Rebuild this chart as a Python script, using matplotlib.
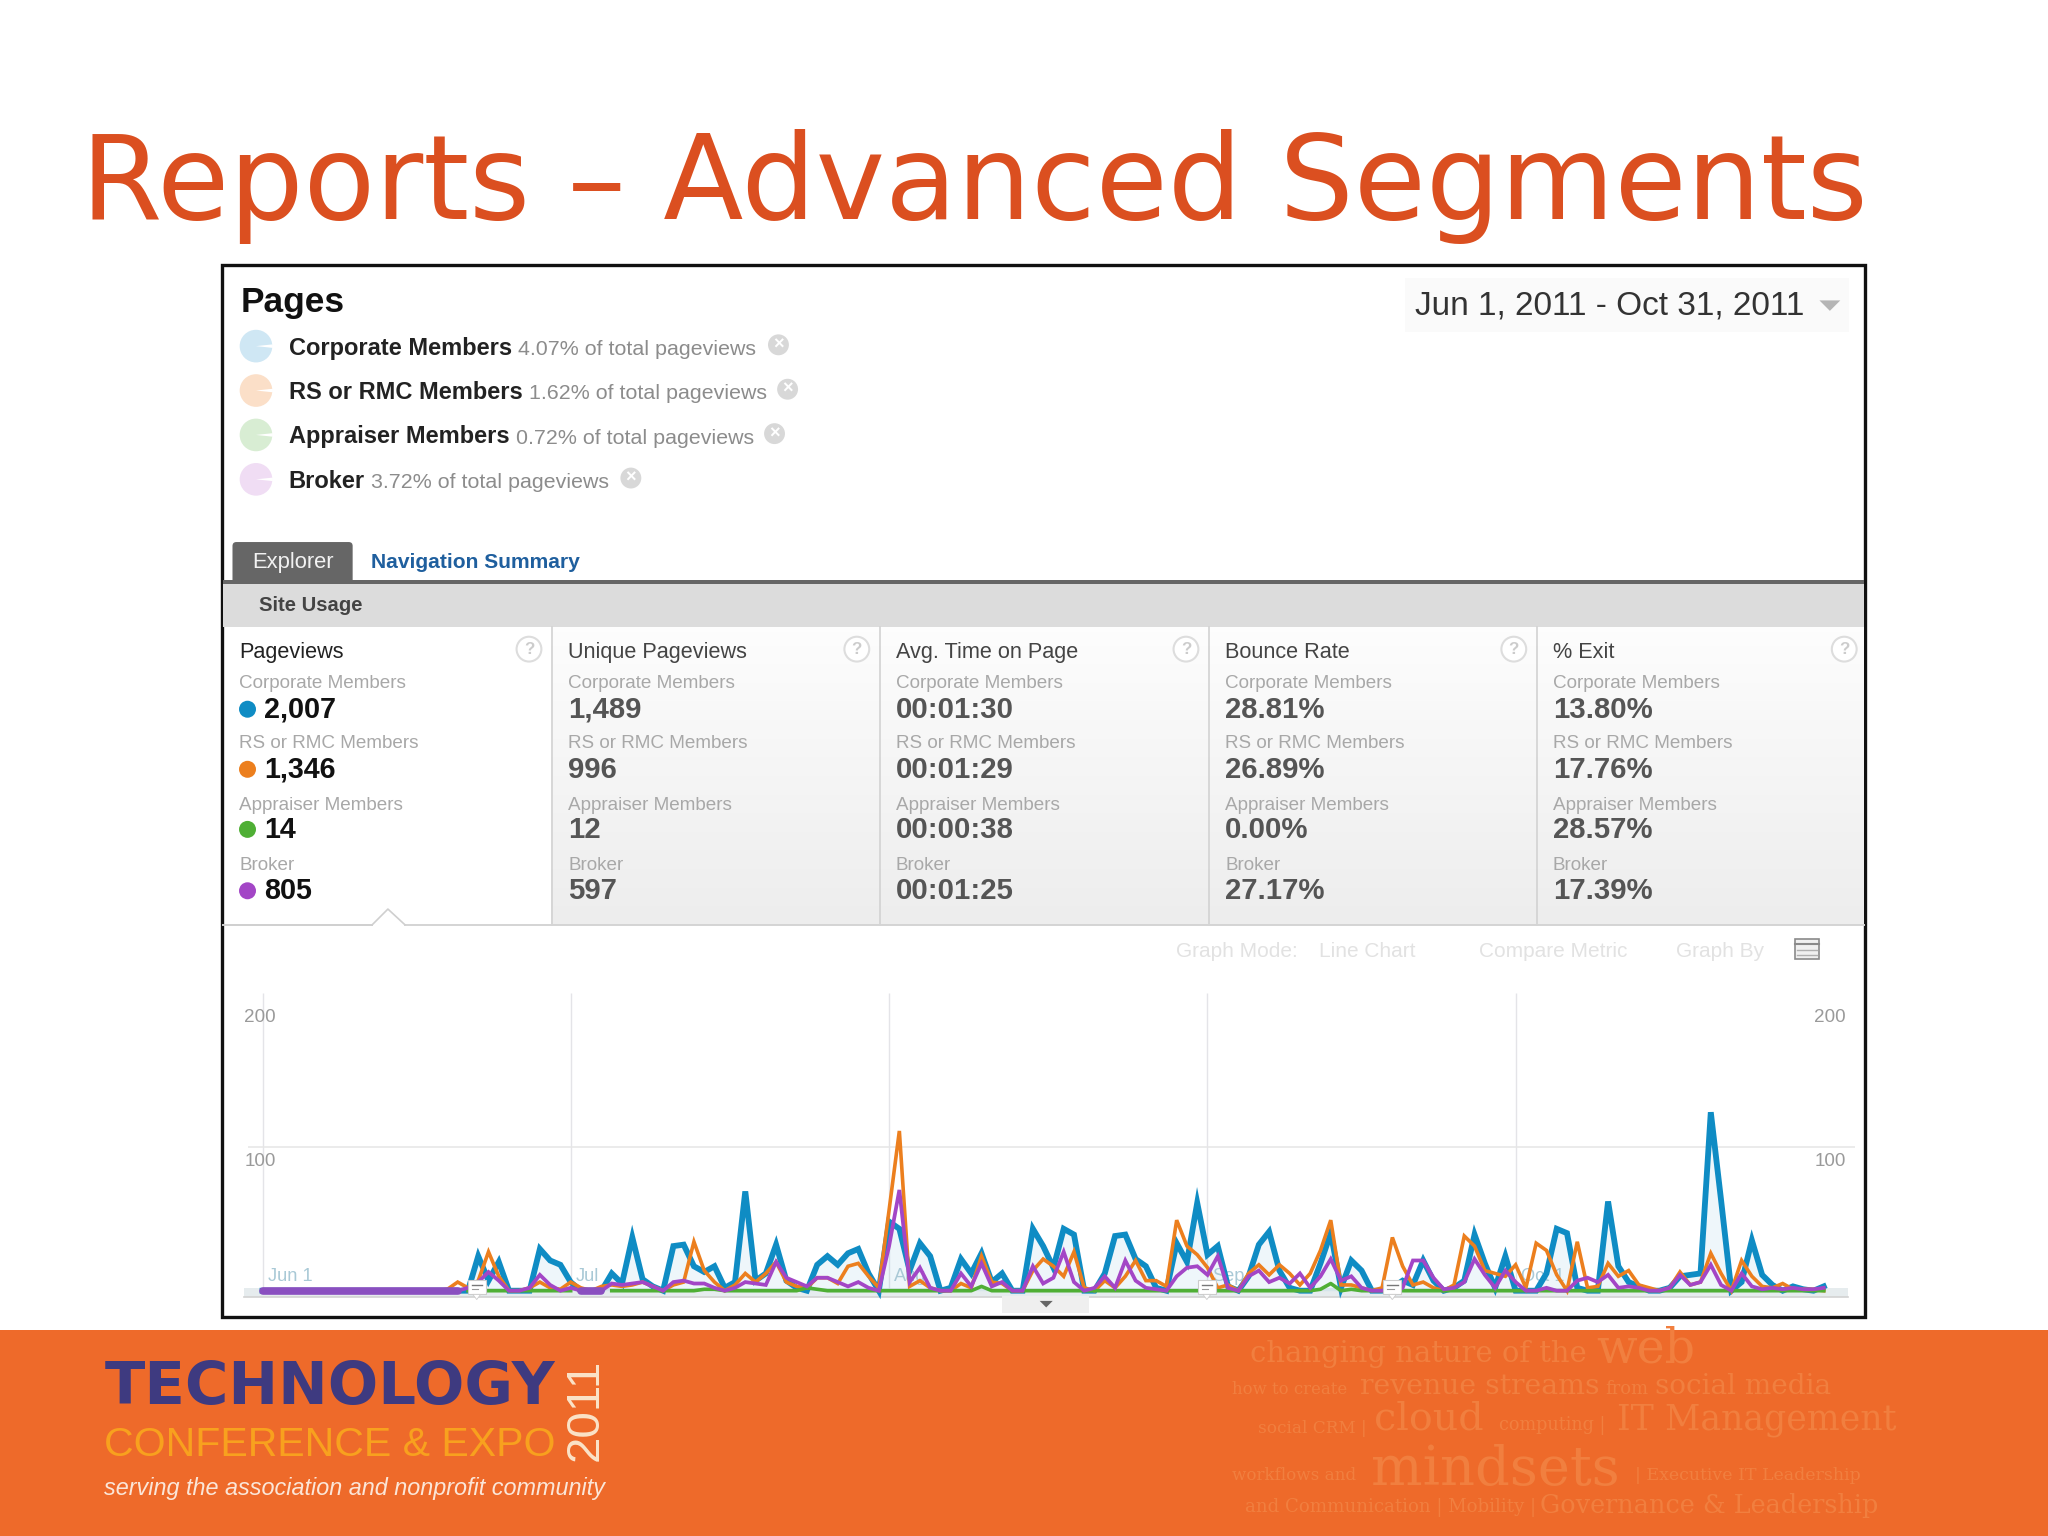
import numpy as np
import pandas as pd
import matplotlib
matplotlib.use("Agg")
import matplotlib.pyplot as plt
import matplotlib.dates as mdates
from matplotlib.patches import Rectangle, Circle, Wedge, Polygon, FancyBboxPatch

SEGMENTS = ["Corporate Members", "RS or RMC Members", "Appraiser Members", "Broker"]
SHARES = ["4.07%", "1.62%", "0.72%", "3.72%"]
COLORS = ["#0F8CC4", "#EC7F1E", "#4FAF35", "#A346C6"]
METRICS = ["Pageviews", "Unique Pageviews", "Avg. Time on Page", "Bounce Rate", "% Exit"]
M_PAGEVIEWS = ["2,007", "1,346", "14", "805"]
M_UNIQUE = ["1,489", "996", "12", "597"]
M_TIME = ["00:01:30", "00:01:29", "00:00:38", "00:01:25"]
M_BOUNCE = ["28.81%", "26.89%", "0.00%", "27.17%"]
M_EXIT = ["13.80%", "17.76%", "28.57%", "17.39%"]

corporate = [0,0,0,0,0,0,0,0,0,0, 0,0,0,0,0,0,0,0,0,0,
             0,24,7,20,0,0,0,29,21,18, 6,0,0,0,12,5,37,8,3,0,
             31,32,17,13,17,2,6,69,7,12, 32,7,2,0,18,24,18,26,29,12,
             0,48,43,14,33,24,0,2,22,12, 26,6,12,0,0,43,31,16,43,39,
             0,0,12,38,39,22,17,2,0,33, 20,61,25,31,3,0,10,32,41,14,
             2,0,0,19,40,2,21,14,0,0, 2,7,4,21,7,0,2,7,39,19,
             2,24,0,0,0,12,43,40,2,0, 0,62,17,6,3,0,0,2,10,11,
             12,124,63,0,6,35,11,4,0,3, 1,0,3]
rs_rmc = [0,0,0,0,0,0,0,0,0,0, 0,0,0,0,0,0,0,0,1,6,
          2,7,27,10,0,0,2,6,2,1, 6,2,0,3,4,3,4,6,3,0,
          4,6,34,14,6,0,4,12,6,12, 20,6,3,2,9,9,5,17,19,10,
          2,56,111,3,7,2,0,0,5,2, 24,6,5,0,0,14,22,17,10,27,
          2,0,7,2,10,21,7,7,3,49, 31,25,16,2,4,0,12,18,11,18,
          12,4,12,28,49,4,4,2,0,2, 37,17,4,6,2,0,4,38,31,14,
          12,10,18,2,33,28,11,0,34,2, 3,19,10,14,4,2,0,2,13,4,
          6,26,12,0,21,10,3,2,5,1, 1,1,0]
broker = [0,0,0,0,0,0,0,0,0,0, 0,0,0,0,0,0,0,0,0,0,
          2,6,13,7,0,0,2,11,4,0, 2,0,0,0,5,4,5,6,3,0,
          6,7,5,5,2,0,2,6,5,4, 20,9,6,3,9,9,6,3,6,2,
          0,31,70,6,16,2,0,0,12,3, 19,3,6,0,0,17,5,9,27,6,
          0,2,10,2,21,7,2,1,0,10, 16,17,11,24,2,0,10,14,6,9,
          5,12,2,10,22,7,10,2,0,0, 2,2,21,21,9,1,2,6,22,11,
          2,14,6,0,0,2,0,0,7,9, 6,11,2,3,2,0,0,2,11,4,
          6,18,4,0,12,3,1,2,1,2, 1,1,2]
appraiser = [0,0,0,0,0,0,0,0,0,0, 0,0,0,0,0,0,0,0,0,0,
             0,0,0,0,0,0,0,0,0,0, 0,0,0,0,0,0,0,0,0,0,
             0,0,0,1,1,0,0,0,0,0, 0,0,0,2,1,0,0,0,0,0,
             0,0,0,0,0,0,0,0,0,0, 3,0,0,0,0,0,0,0,0,0,
             0,0,0,0,0,0,0,0,0,0, 0,0,0,0,0,0,0,0,0,0,
             0,0,0,1,5,0,1,0,0,0, 0,0,0,0,0,0,0,0,0,0,
             0,0,0,0,0,0,0,0,0,0, 0,0,0,0,0,0,0,0,0,0,
             0,0,0,0,0,0,0,0,0,0, 0,0,0]
dates = pd.date_range("2011-06-01", "2011-10-31", freq="D")
no_data = [(0, 20), (31, 34)]
x_labels = ["Jun 1", "Jul", "Aug", "Sep", "Oct 1"]
x_ticks = pd.to_datetime(["2011-06-01", "2011-07-01", "2011-08-01", "2011-09-01", "2011-10-01"])
y_ticks = [100, 200]

SANS = ["Liberation Sans", "DejaVu Sans"]
SERIF = ["DejaVu Serif", "Liberation Serif"]
plt.rcParams["font.family"] = SANS

fig = plt.figure(figsize=(20.48, 15.36), dpi=100, facecolor="white")
W, H = 1568.0, 1176.0
bg = fig.add_axes([0, 0, 1, 1], zorder=0)
bg.set_xlim(0, W); bg.set_ylim(H, 0); bg.axis("off")
FS = 0.72 * 2048 / 1568   # font points per slide unit


def T(x, y, s, size, color="#333333", weight="normal", ha="left", va="center", ax=bg, **kw):
    return ax.text(x, y + 1.5, s, fontsize=size * FS, color=color, fontweight=weight,
                   ha=ha, va=va, **kw)


def fit(t, width):
    r = fig.canvas.get_renderer()
    ext = t.get_window_extent(r)
    w = max(ext.width, ext.height) if t.get_rotation() else ext.width
    t.set_fontsize(t.get_fontsize() * width * (2048 / W) / w)
    return t


def rect(x0, y0, x1, y1, color, z=1, **kw):
    bg.add_patch(Rectangle((x0, y0), x1 - x0, y1 - y0, facecolor=color, edgecolor="none", zorder=z, **kw))


# Title
fit(T(62, 141, "Reports – Advanced Segments", 84, color="#DB4F20", family="DejaVu Sans"), 1368)

# Panel frame
bg.add_patch(Rectangle((170, 203), 1258, 805, facecolor="white", edgecolor="#111111", lw=2.4, zorder=1))

# Header
T(184, 230, "Pages", 27, color="#111111", weight="bold", zorder=3)
pale = ["#CFE7F4", "#FBDFC8", "#D8EDD3", "#F0DDF4"]
ly = [265, 299, 333, 367]
cx = [596, 603, 593, 483]
for i, (s, p) in enumerate(zip(SEGMENTS, SHARES)):
    bg.add_patch(Circle((196, ly[i]), 12.5, facecolor=pale[i], edgecolor="none", zorder=2))
    bg.add_patch(Wedge((196, ly[i]), 13, -6, 6, facecolor="white", edgecolor="none", zorder=2.1))
    t = T(221, ly[i], s, 18.1, color="#222222", weight="bold", zorder=3)
    r = fig.canvas.get_renderer()
    e = t.get_window_extent(r)
    T(e.x1 * W / 2048 + 5, ly[i] + 1, p + " of total pageviews", 16.4, color="#8C8C8C", zorder=3)
    bg.add_patch(Circle((cx[i], ly[i] - 1), 8, facecolor="#D8D8D8", edgecolor="none", zorder=2))
    T(cx[i], ly[i] - 2.5, "×", 14, color="white", ha="center", weight="bold", zorder=3)

# Date box
rect(1076, 213, 1416, 254, "#FAFAFA", z=2)
T(1083, 233, "Jun 1, 2011 - Oct 31, 2011", 25.6, color="#333333", zorder=3)
bg.add_patch(Polygon([(1393, 230), (1409, 230), (1401, 238)], facecolor="#B5B5B5", edgecolor="none", zorder=3))

# Tabs
bg.add_patch(FancyBboxPatch((180, 417), 88, 30, boxstyle="round,pad=2,rounding_size=3",
                            facecolor="#666666", edgecolor="none", zorder=2))
T(224, 429, "Explorer", 16.8, color="#F2F2F2", ha="center", zorder=3)
T(284, 429, "Navigation Summary", 16.1, color="#1F5F9E", weight="bold", zorder=3)

rect(171, 446, 1427, 480, "#DCDCDC", z=2)
rect(171, 444, 1427, 447, "#666666", z=3)
T(198, 462, "Site Usage", 15.5, color="#444444", weight="bold", zorder=3)

# Metric columns
col_x = [171, 422, 673, 925, 1176, 1427]
grad = np.linspace(0, 1, 64).reshape(-1, 1)
cmap = matplotlib.colors.LinearSegmentedColormap.from_list("g", ["#FDFDFD", "#EDEDED"])
bg.imshow(grad, extent=(422, 1427, 708, 480), aspect="auto", cmap=cmap, zorder=1.5)
bg.set_xlim(0, W); bg.set_ylim(H, 0)
for cxl in col_x[1:-1]:
    bg.plot([cxl + 0.5, cxl + 0.5], [480, 708], color="#D2D2D2", lw=1.2, zorder=3)
bg.plot([171, 285], [708, 708], color="#CFCFCF", lw=1.4, zorder=3)
bg.plot([310, 1427], [708, 708], color="#D4D4D4", lw=1.4, zorder=3)
bg.plot([285, 297, 310], [708, 696, 708], color="#CFCFCF", lw=1.2, zorder=3)

values = [M_PAGEVIEWS, M_UNIQUE, M_TIME, M_BOUNCE, M_EXIT]
text_x = [183, 435, 686, 938, 1189]
help_x = [405, 656, 908, 1159, 1412]
lab_y = [523, 569, 616, 662]
val_y = [543, 589, 635, 682]
for c in range(5):
    T(text_x[c], 498, METRICS[c], 16.6, color="#222222" if c == 0 else "#444444", zorder=3)
    bg.add_patch(Circle((help_x[c], 497), 9.5, facecolor="white", edgecolor="#DDDDDD", lw=1.5, zorder=3))
    T(help_x[c], 495.5, "?", 13, color="#CCCCCC", ha="center", weight="bold", zorder=4)
    for i in range(4):
        T(text_x[c], lab_y[i] - 1, SEGMENTS[i], 14.5, color="#A8A8A8", zorder=3)
        if c == 0:
            bg.add_patch(Circle((189.5, val_y[i]), 6.5, facecolor=COLORS[i], edgecolor="none", zorder=3))
            T(202, val_y[i] - 1, values[c][i], 22, color="#111111", weight="bold", zorder=3)
        else:
            T(text_x[c], val_y[i] - 1, values[c][i], 22.5, color="#555555", weight="bold", zorder=3)

# Graph controls
for x_, s_ in [(900, "Graph Mode:"), (1010, "Line Chart"), (1132, "Compare Metric"), (1283, "Graph By")]:
    T(x_, 727, s_, 16, color="#E2E2E2", zorder=3)
bg.add_patch(Rectangle((1374, 719), 19, 15, facecolor="#F0F0F0", edgecolor="#8A8A8A", lw=1.2, zorder=3))
bg.plot([1374, 1393], [723, 723], color="#8A8A8A", lw=1.5, zorder=4)
bg.plot([1376, 1391], [727, 727], color="#B0B0B0", lw=1.0, zorder=4)
bg.plot([1376, 1391], [731, 731], color="#B0B0B0", lw=1.0, zorder=4)

# Timeline strip and handle
rect(187, 986, 1415, 993, "#E6ECEE", z=2)
bg.plot([187, 1415], [993, 993], color="#D2D2D2", lw=1.2, zorder=2)
rect(767, 992, 834, 1005, "#EFEFEF", z=2)
bg.add_patch(Polygon([(796, 996), (806, 996), (801, 1001)], facecolor="#666666", edgecolor="none", zorder=3))

# Footer
rect(0, 1018, W, H, "#EE6A2A", z=1)
fit(T(80, 1061, "TECHNOLOGY", 42, color="#3E3A80", weight="bold", family="DejaVu Sans"), 345)
fit(T(80, 1105, "CONFERENCE & EXPO", 36, color="#F8A11E"), 345)
fit(T(448, 1078, "2011", 40, color="#FBE3C8", rotation=90, ha="center"), 78)
fit(T(80, 1138, "serving the association and nonprofit community", 20, color="#FBE6D8", style="italic"), 382)

wm = "#F17F3F"
rows = [
    (957, 1035, "changing nature of the", 24), (1222, 1031, "web", 38),
    (943, 1062, "how to create", 14), (1041, 1060, "revenue streams", 24),
    (1229, 1062, "from", 14), (1267, 1060, "social media", 24),
    (963, 1092, "social CRM |", 14), (1052, 1085, "cloud", 30),
    (1148, 1090, "computing |", 14), (1238, 1086, "IT Management", 26),
    (943, 1128, "workflows and", 14), (1050, 1124, "mindsets", 40),
    (1252, 1128, "| Executive IT Leadership", 14),
    (953, 1153, "and Communication | Mobility |", 14),
    (1179, 1151, "Governance & Leadership", 22),
]
widths = [257, 76, 88, 184, 33, 135, 83, 84, 82, 214, 95, 190, 172, 223, 259]
for (x_, y_, s_, sz), w_ in zip(rows, widths):
    fit(T(x_, y_, s_, sz, color=wm, family=SERIF, zorder=2), w_)

# Chart
left, right, top, bottom = 190.0, 1420.0, 760.0, 995.0
ax = fig.add_axes([left / W, 1 - bottom / H, (right - left) / W, (bottom - top) / H], zorder=2)
ax.patch.set_alpha(0)
for sp in ax.spines.values():
    sp.set_visible(False)
ax.tick_params(left=False, right=False, bottom=False, labelbottom=False, labelleft=False)
d0 = mdates.date2num(dates[0])
per_day = 7.864
per_unit = 1.102
ax.set_xlim(d0 + (left - 201) / per_day, d0 + (right - 201) / per_day)
ax.set_ylim((988.2 - bottom) / per_unit, (988.2 - top) / per_unit)

xn = mdates.date2num(dates)
ax.vlines(mdates.date2num(x_ticks), ax.get_ylim()[0] + 6, ax.get_ylim()[1], color="#E4E4E8", lw=1.0, zorder=1)
ax.axhline(y_ticks[0], color="#E6E6E6", lw=1.1, zorder=1)
ytr = ax.get_yaxis_transform()
for v in y_ticks:
    ax.annotate(str(v), (0, v), xycoords=ytr, xytext=(-3 * FS, -11 * FS), textcoords="offset points",
                ha="left", va="center", fontsize=14.5 * FS, color="#9A9A9A")
    ax.annotate(str(v), (1, v), xycoords=ytr, xytext=(-7 * FS, -11 * FS), textcoords="offset points",
                ha="right", va="center", fontsize=14.5 * FS, color="#9A9A9A")
for d, s in zip(mdates.date2num(x_ticks), x_labels):
    ax.text(d + 0.5, 10, s, fontsize=14 * FS, color="#A9C9D6", ha="left", va="center", zorder=1.5)

corp = np.array(corporate, float)
ax.fill_between(xn, 0, corp, color=COLORS[0], alpha=0.07, lw=0, zorder=1.2)
ax.plot(xn, corp, color=COLORS[0], lw=4.2, solid_joinstyle="miter", zorder=2)
ax.plot(xn, rs_rmc, color=COLORS[1], lw=2.6, solid_joinstyle="miter", zorder=3)
ax.plot(xn, broker, color=COLORS[3], lw=2.7, solid_joinstyle="miter", zorder=5)
green = np.array(appraiser, float)
for a, b in no_data:
    green[a:b] = np.nan
ax.plot(xn, green, color=COLORS[2], lw=2.6, zorder=4)
for a, b in no_data:
    ax.plot(xn[a:b], np.array(broker, float)[a:b], color="#8A4FC0", lw=5.5, solid_capstyle="round", zorder=6)

# Annotation bubbles on the timeline
ov = fig.add_axes([0, 0, 1, 1], zorder=3)
ov.set_xlim(0, W); ov.set_ylim(H, 0); ov.axis("off"); ov.patch.set_alpha(0)
for bx in [365, 924, 1066]:
    ov.add_patch(Rectangle((bx - 7, 980), 14, 11, facecolor="white", edgecolor="#CCCCCC", lw=0.8))
    ov.add_patch(Polygon([(bx - 3, 991), (bx + 3, 991), (bx, 995)], facecolor="white", edgecolor="#CCCCCC", lw=0.6))
    ov.plot([bx - 4, bx + 4], [984, 984], color="#777777", lw=1.0)
    ov.plot([bx - 4, bx + 1], [987, 987], color="#999999", lw=0.8)

fig.savefig("out.png", dpi=100)
